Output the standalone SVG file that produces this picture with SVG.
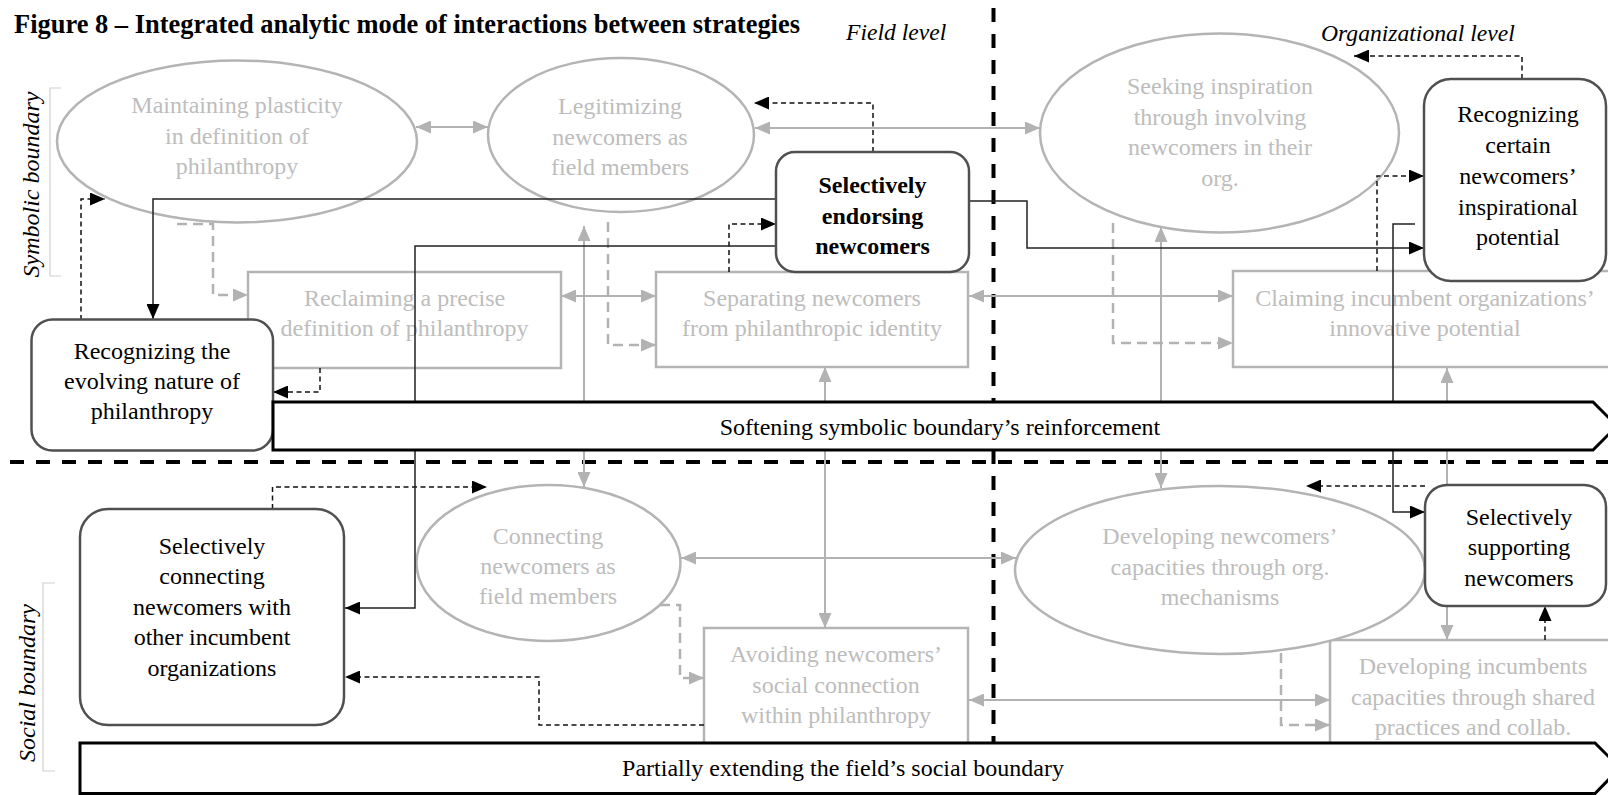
<svg xmlns="http://www.w3.org/2000/svg" width="1608" height="795" viewBox="0 0 1608 795">
  <style>
    text { font-family: "Liberation Serif", "Times New Roman", serif; font-size: 24px; }
    .gt { fill: #bdbdbd; text-anchor: middle; }
    .bt { fill: #000; text-anchor: middle; }
    .bold { font-weight: bold; }
    .it { font-style: italic; }
    .gnode { fill: #fff; stroke: #b4b4b4; stroke-width: 2.5; }
    .bnode { fill: #fff; stroke: #505050; stroke-width: 2.5; }
    .band { fill: #fff; stroke: #000; stroke-width: 3; }
    .divider { fill: none; stroke: #000; stroke-width: 4; stroke-dasharray: 14 12; }
    .bracket { fill: none; stroke: #cfcfcf; stroke-width: 1.2; }
    .gsolid { fill: none; stroke: #b2b2b2; stroke-width: 2; marker-start: url(#ag); marker-end: url(#ag); }
    .gdash { fill: none; stroke: #b2b2b2; stroke-width: 2.5; stroke-dasharray: 10 6; marker-end: url(#ag); }
    .bdash { fill: none; stroke: #111; stroke-width: 1.5; stroke-dasharray: 5 3.5; marker-end: url(#ab); }
    .bsolid { fill: none; stroke: #222; stroke-width: 1.5; marker-end: url(#ab); }
  </style>
  <defs>
    <marker id="ag" markerUnits="userSpaceOnUse" markerWidth="15" markerHeight="13" refX="15" refY="6.5" orient="auto-start-reverse">
      <path d="M0,0 L15,6.5 L0,13 Z" fill="#b2b2b2"/>
    </marker>
    <marker id="ab" markerUnits="userSpaceOnUse" markerWidth="15" markerHeight="13" refX="15" refY="6.5" orient="auto-start-reverse">
      <path d="M0,0 L15,6.5 L0,13 Z" fill="#000"/>
    </marker>
  </defs>

  <rect width="1608" height="795" fill="#fff"/>

  <!-- headings -->
  <text x="14" y="33" class="bold" style="font-size:26.4px" textLength="786" lengthAdjust="spacingAndGlyphs">Figure 8 – Integrated analytic mode of interactions between strategies</text>
  <text x="846" y="40" class="it" style="font-size:23.6px">Field level</text>
  <text x="1321" y="41" class="it" style="font-size:23.6px">Organizational level</text>

  <!-- side labels -->
  <g id="label-symbolic">
    <path class="bracket" d="M61,88 H50 V276 H61"/>
    <text transform="translate(38.5,184.5) rotate(-90)" class="it" text-anchor="middle">Symbolic boundary</text>
  </g>
  <g id="label-social">
    <path class="bracket" d="M55,583 H43 V771 H55"/>
    <text transform="translate(35,683) rotate(-90)" class="it" text-anchor="middle">Social boundary</text>
  </g>

  <!-- secondary strategies (grey) -->
  <g id="maintaining-plasticity">
    <ellipse class="gnode" cx="237" cy="141.5" rx="180" ry="81"/>
    <text class="gt" x="237" y="113">Maintaining plasticity</text>
    <text class="gt" x="237" y="143.5">in definition of</text>
    <text class="gt" x="237" y="174">philanthropy</text>
  </g>
  <g id="legitimizing-newcomers">
    <ellipse class="gnode" cx="621" cy="135" rx="133" ry="77"/>
    <text class="gt" x="620" y="114">Legitimizing</text>
    <text class="gt" x="620" y="144.5">newcomers as</text>
    <text class="gt" x="620" y="175">field members</text>
  </g>
  <g id="seeking-inspiration">
    <ellipse class="gnode" cx="1219.5" cy="133" rx="179.5" ry="99.5"/>
    <text class="gt" x="1220" y="94">Seeking inspiration</text>
    <text class="gt" x="1220" y="124.5">through involving</text>
    <text class="gt" x="1220" y="155">newcomers in their</text>
    <text class="gt" x="1220" y="185.5">org.</text>
  </g>
  <g id="reclaiming-definition">
    <rect class="gnode" x="248" y="272" width="313" height="96"/>
    <text class="gt" x="404.5" y="305.5">Reclaiming a precise</text>
    <text class="gt" x="404.5" y="336">definition of philanthropy</text>
  </g>
  <g id="separating-newcomers">
    <rect class="gnode" x="656" y="272" width="312" height="95"/>
    <text class="gt" x="812" y="305.5">Separating newcomers</text>
    <text class="gt" x="812" y="336">from philanthropic identity</text>
  </g>
  <g id="claiming-innovative">
    <rect class="gnode" x="1233" y="271" width="390" height="96"/>
    <text class="gt" x="1425" y="305.5">Claiming incumbent organizations’</text>
    <text class="gt" x="1425" y="336">innovative potential</text>
  </g>
  <g id="connecting-newcomers">
    <ellipse class="gnode" cx="548.5" cy="563" rx="132" ry="78"/>
    <text class="gt" x="548" y="543.5">Connecting</text>
    <text class="gt" x="548" y="573.5">newcomers as</text>
    <text class="gt" x="548" y="603.5">field members</text>
  </g>
  <g id="avoiding-connection">
    <rect class="gnode" x="704" y="628" width="264" height="140"/>
    <text class="gt" x="836" y="662">Avoiding newcomers’</text>
    <text class="gt" x="836" y="692.5">social connection</text>
    <text class="gt" x="836" y="723">within philanthropy</text>
  </g>
  <g id="developing-incumbents">
    <rect class="gnode" x="1330" y="640" width="290" height="130"/>
    <text class="gt" x="1473" y="674">Developing incumbents</text>
    <text class="gt" x="1473" y="704.5">capacities through shared</text>
    <text class="gt" x="1473" y="735">practices and collab.</text>
  </g>
  <g id="developing-newcomers">
    <ellipse class="gnode" cx="1220" cy="570" rx="205" ry="84"/>
    <text class="gt" x="1220" y="544">Developing newcomers’</text>
    <text class="gt" x="1220" y="574.5">capacities through org.</text>
    <text class="gt" x="1220" y="605">mechanisms</text>
  </g>

  <!-- level and boundary dividers -->
  <g id="dividers">
    <line class="divider" x1="10" y1="462" x2="1608" y2="462"/>
    <line class="divider" x1="993.5" y1="8" x2="993.5" y2="745"/>
  </g>

  <!-- connectors -->
  <g id="connectors">
    <!-- grey two-way links -->
    <path class="gsolid" d="M416,127 H488"/>
    <path class="gsolid" d="M755,128 H1040"/>
    <path class="gsolid" d="M561,296 H656"/>
    <path class="gsolid" d="M969,296 H1233"/>
    <path class="gsolid" d="M584,226 V487"/>
    <path class="gsolid" d="M825,367 V628"/>
    <path class="gsolid" d="M1161,227 V488"/>
    <path class="gsolid" d="M1447,368 V640"/>
    <path class="gsolid" d="M681,558 H1016"/>
    <path class="gsolid" d="M969,700 H1330"/>
    <!-- grey dashed links -->
    <path class="gdash" d="M177,224 H213 V295 H248"/>
    <path class="gdash" d="M608,222 V345 H656"/>
    <path class="gdash" d="M1113,223 V343 H1233"/>
    <path class="gdash" d="M660,605 H680 V678 H704"/>
    <path class="gdash" d="M1281,653 V725 H1330"/>
    <!-- black dashed links -->
    <path class="bdash" d="M873,152 V103 H754"/>
    <path class="bdash" d="M729,272 V224 H776"/>
    <path class="bdash" d="M1522,79 V56 H1354"/>
    <path class="bdash" d="M81,320 V199 H105"/>
    <path class="bdash" d="M320,368 V392 H273"/>
    <path class="bdash" d="M1377,271 V176 H1424"/>
    <path class="bdash" d="M272.5,509 V487 H487"/>
    <path class="bdash" d="M704,725 H539 V677 H345"/>
    <path class="bdash" d="M1425,486 H1306"/>
    <path class="bdash" d="M1545,640 V606"/>
    <!-- black solid links -->
    <path class="bsolid" d="M776,199 H153 V319"/>
    <path class="bsolid" d="M969,201 H1027 V248 H1424"/>
    <path class="bsolid" d="M776,246 H415 V608 H345"/>
    <path class="bsolid" d="M1415,224 H1393 V512 H1425"/>
  </g>

  <!-- key strategies -->
  <g id="selectively-endorsing">
    <rect class="bnode" x="776" y="152" width="193" height="120" rx="19"/>
    <text class="bt bold" x="872.5" y="193">Selectively</text>
    <text class="bt bold" x="872.5" y="223.5">endorsing</text>
    <text class="bt bold" x="872.5" y="254">newcomers</text>
  </g>
  <g id="recognizing-inspirational">
    <rect class="bnode" x="1424" y="79" width="182" height="202" rx="27"/>
    <text class="bt" x="1518" y="122">Recognizing</text>
    <text class="bt" x="1518" y="153">certain</text>
    <text class="bt" x="1518" y="184">newcomers’</text>
    <text class="bt" x="1518" y="214.5">inspirational</text>
    <text class="bt" x="1518" y="245">potential</text>
  </g>
  <g id="recognizing-evolving">
    <rect class="bnode" x="31.5" y="319.5" width="241.5" height="131" rx="21"/>
    <text class="bt" x="152" y="359">Recognizing the</text>
    <text class="bt" x="152" y="389">evolving nature of</text>
    <text class="bt" x="152" y="419">philanthropy</text>
  </g>
  <g id="selectively-connecting">
    <rect class="bnode" x="80" y="509" width="264" height="216" rx="28"/>
    <text class="bt" x="212" y="553.5">Selectively</text>
    <text class="bt" x="212" y="584">connecting</text>
    <text class="bt" x="212" y="614.5">newcomers with</text>
    <text class="bt" x="212" y="645">other incumbent</text>
    <text class="bt" x="212" y="675.5">organizations</text>
  </g>
  <g id="selectively-supporting">
    <rect class="bnode" x="1425" y="485" width="181" height="121" rx="22"/>
    <text class="bt" x="1519" y="524.5">Selectively</text>
    <text class="bt" x="1519" y="555">supporting</text>
    <text class="bt" x="1519" y="585.5">newcomers</text>
  </g>

  <!-- outcome bands -->
  <g id="softening-band">
    <path class="band" d="M273,402 H1593 L1617,426 L1593,450 H273 Z"/>
    <text class="bt" x="940" y="435">Softening symbolic boundary’s reinforcement</text>
  </g>
  <g id="extending-band">
    <path class="band" d="M80,743 H1595 L1620,768 L1595,793.5 H80 Z"/>
    <text class="bt" x="843" y="776">Partially extending the field’s social boundary</text>
  </g>
</svg>
